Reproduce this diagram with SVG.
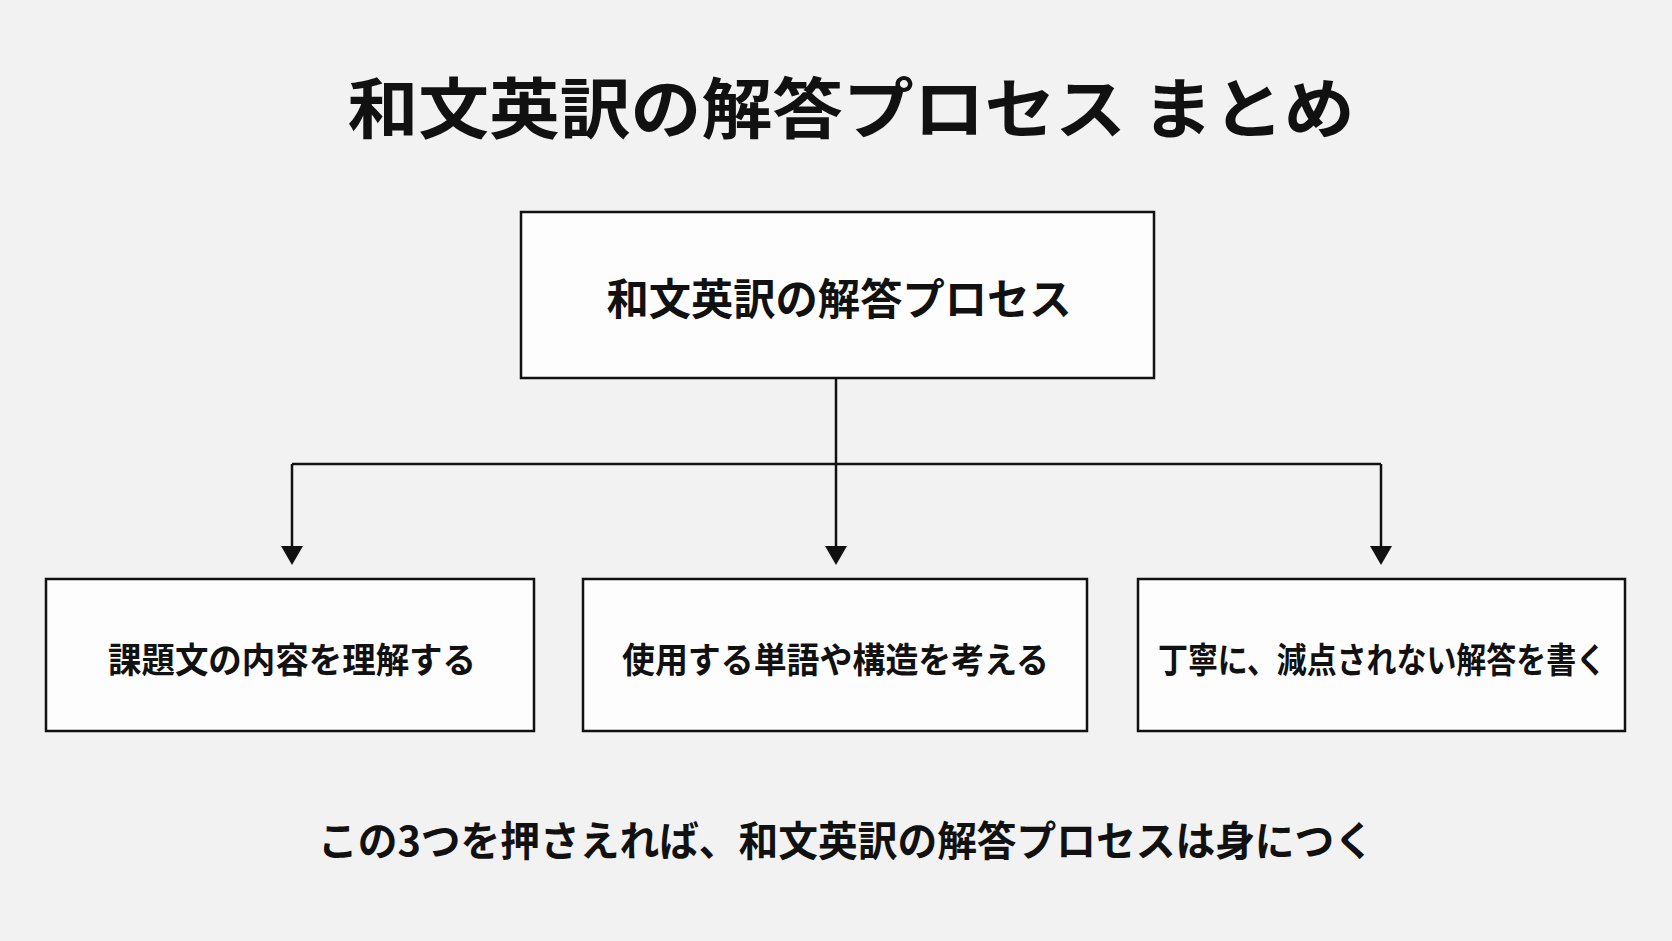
<svg xmlns="http://www.w3.org/2000/svg" width="1672" height="941" viewBox="0 0 1672 941">
<defs>
<style>
.t{font-family:"Noto Sans CJK JP","Noto Sans",sans-serif;font-weight:700;fill:#111;text-anchor:middle;dominant-baseline:central}
.box{fill:#fdfdfd;stroke:#111;stroke-width:2.5}
.ln{fill:none;stroke:#111;stroke-width:2.5}
</style>
<marker id="ah" markerUnits="userSpaceOnUse" markerWidth="22" markerHeight="20" viewBox="0 0 22 20" refX="11" refY="18" orient="auto-start-reverse">
<path d="M0,0 L22,0 L11,19 Z" fill="#111" transform="rotate(0)"/>
</marker>
</defs>
<rect width="1672" height="941" fill="#f2f2f2"/>
<g id="title">
<text class="t" x="851" y="104" font-size="66" textLength="1007" lengthAdjust="spacingAndGlyphs">和文英訳の解答プロセス まとめ</text>
</g>
<g id="connectors">
<path class="ln" d="M836,378 V464"/>
<path class="ln" d="M292,464 H1381"/>
<line x1="292" y1="464" x2="292" y2="547" class="ln"/>
<line x1="836" y1="464" x2="836" y2="547" class="ln"/>
<line x1="1381" y1="464" x2="1381" y2="547" class="ln"/>
<path d="M281,546 L303,546 L292,565 Z" fill="#111"/>
<path d="M825,546 L847,546 L836,565 Z" fill="#111"/>
<path d="M1370,546 L1392,546 L1381,565 Z" fill="#111"/>
</g>
<g id="node-root">
<rect class="box" x="521" y="212" width="633" height="166"/>
<text class="t" x="839" y="296" font-size="43" textLength="465" lengthAdjust="spacingAndGlyphs">和文英訳の解答プロセス</text>
</g>
<g id="node-1">
<rect class="box" x="46" y="579" width="488" height="152"/>
<text class="t" x="292" y="657" font-size="35" textLength="368" lengthAdjust="spacingAndGlyphs">課題文の内容を理解する</text>
</g>
<g id="node-2">
<rect class="box" x="583" y="579" width="504" height="152"/>
<text class="t" x="835.5" y="657" font-size="35" textLength="427" lengthAdjust="spacingAndGlyphs">使用する単語や構造を考える</text>
</g>
<g id="node-3">
<rect class="box" x="1138" y="579" width="487" height="152"/>
<text class="t" x="1382" y="657" font-size="35" textLength="448" lengthAdjust="spacingAndGlyphs">丁寧に、減点されない解答を書く</text>
</g>
<g id="footer">
<text class="t" x="846" y="838" font-size="41" textLength="1056" lengthAdjust="spacingAndGlyphs">この3つを押さえれば、和文英訳の解答プロセスは身につく</text>
</g>
</svg>
